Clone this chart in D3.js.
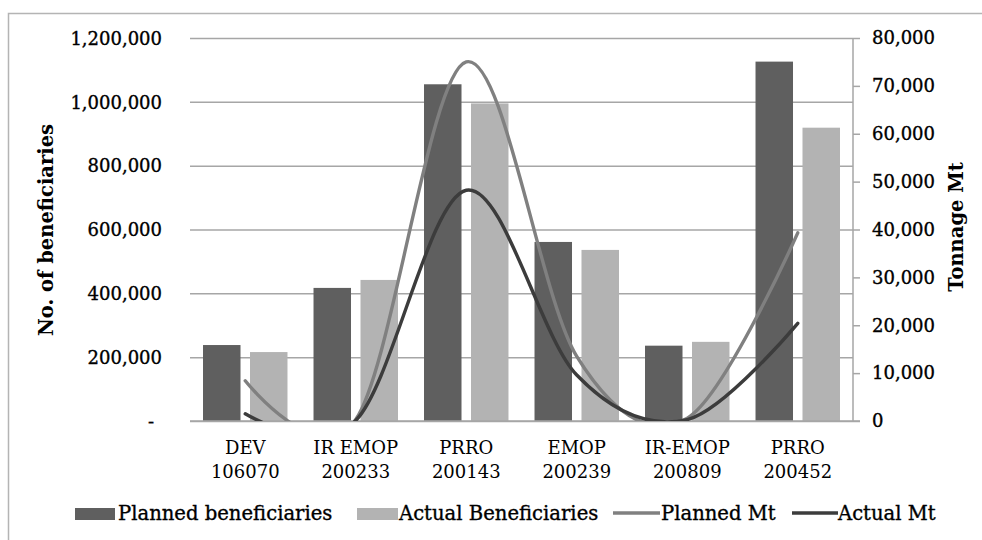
<!DOCTYPE html>
<html>
<head>
<meta charset="utf-8">
<script src="https://cdn.jsdelivr.net/npm/d3@7"></script>
<style>
  html, body { margin: 0; padding: 0; background: #fff; }
  svg { display: block; }
  text { font-family: "DejaVu Serif", "Liberation Serif", serif; fill: #000; }
  .heavy { stroke: #000; stroke-width: 0.35px; }
</style>
</head>
<body>
<svg id="chart" width="982" height="540"></svg>
<script>
// Programme names (two lines each) and their figures
const categoryLine1 = ["DEV", "IR EMOP", "PRRO", "EMOP", "IR-EMOP", "PRRO"];
const categoryLine2 = ["106070", "200233", "200143", "200239", "200809", "200452"];
const plannedBeneficiaries = [238000, 417000, 1055000, 561000, 236000, 1126000];
const actualBeneficiaries  = [216000, 442000, 995000, 536000, 248000, 919000];
const plannedMt = [8400, 300, 75000, 13500, 600, 39300];
const actualMt  = [1500, 100, 48200, 9600, 300, 20400];
const leftTicks  = [0, 200000, 400000, 600000, 800000, 1000000, 1200000];
const rightTicks = [0, 10000, 20000, 30000, 40000, 50000, 60000, 70000, 80000];
const seriesNames = ["Planned beneficiaries", "Actual Beneficiaries", "Planned Mt", "Actual Mt"];

const svg = d3.select("#chart");
const plot = { left: 190, right: 853, top: 38, bottom: 421 };

const colPlanned = "#5f5f5f", colActual = "#b3b3b3";
const colPlannedMt = "#808080", colActualMt = "#3c3c3c";
const gridCol = "#a6a6a6";

// outer chart frame
svg.append("rect")
  .attr("x", 8.5).attr("y", 13.5).attr("width", 1000).attr("height", 600)
  .attr("fill", "none").attr("stroke", "#b4b4b4").attr("stroke-width", 1.5);

const x = d3.scaleBand().domain(d3.range(categoryLine1.length)).range([plot.left, plot.right]);
const xInner = d3.scaleBand().domain(["p", "a"]).range([0, x.bandwidth()])
  .paddingInner(0.202).paddingOuter(0.277);
const yL = d3.scaleLinear().domain([0, 1200000]).range([plot.bottom, plot.top]);
const yR = d3.scaleLinear().domain([0, 80000]).range([plot.bottom, plot.top]);

// horizontal gridlines and left axis labels
const leftAxis = d3.axisLeft(yL).tickValues(leftTicks)
  .tickSize(-(plot.right - plot.left)).tickPadding(28)
  .tickFormat(d => d === 0 ? "-" : d3.format(",")(d));
const gL = svg.append("g").attr("transform", `translate(${plot.left},0)`).call(leftAxis);
gL.select(".domain").remove();
gL.selectAll(".tick line").attr("stroke", gridCol).attr("stroke-width", 1.5);
gL.selectAll(".tick text").attr("font-size", 18).attr("dy", "0.35em").attr("class", "heavy")
  .style("font-family", "'DejaVu Serif', serif").attr("fill", "#000");
gL.selectAll(".tick text").filter(d => d === 0).attr("x", -36);

// bars
const rows = categoryLine1.map((c, i) => ({ i, p: plannedBeneficiaries[i], a: actualBeneficiaries[i] }));
const bars = svg.append("g");
bars.selectAll("rect.p").data(rows).join("rect")
  .attr("x", d => x(d.i) + xInner("p")).attr("width", xInner.bandwidth())
  .attr("y", d => yL(d.p)).attr("height", d => yL(0) - yL(d.p))
  .attr("fill", colPlanned);
bars.selectAll("rect.a").data(rows).join("rect")
  .attr("x", d => x(d.i) + xInner("a")).attr("width", xInner.bandwidth())
  .attr("y", d => yL(d.a)).attr("height", d => yL(0) - yL(d.a))
  .attr("fill", colActual);

// category axis baseline
svg.append("line").attr("x1", plot.left).attr("x2", plot.right + 7)
  .attr("y1", plot.bottom).attr("y2", plot.bottom)
  .attr("stroke", gridCol).attr("stroke-width", 1.5);

// category labels
const cat = svg.append("g");
categoryLine1.forEach((c, i) => {
  const cx = x(i) + x.bandwidth() / 2;
  const t = cat.append("text").attr("x", cx).attr("text-anchor", "middle").attr("font-size", 18);
  t.append("tspan").attr("x", cx).attr("y", 454).text(c);
  t.append("tspan").attr("x", cx).attr("y", 478).text(categoryLine2[i]);
});

// right axis
const rightAxis = d3.axisRight(yR).tickValues(rightTicks).tickSize(7).tickPadding(12)
  .tickFormat(d3.format(","));
const gR = svg.append("g").attr("transform", `translate(${plot.right},0)`).call(rightAxis);
gR.select(".domain").attr("stroke", gridCol).attr("stroke-width", 1.5)
  .attr("d", `M0,${plot.top}V${plot.bottom}`);
gR.selectAll(".tick line").attr("stroke", gridCol).attr("stroke-width", 1.5);
gR.selectAll(".tick text").attr("font-size", 18).attr("class", "heavy")
  .style("font-family", "'DejaVu Serif', serif").attr("fill", "#000");

// smoothed tonnage lines, clipped to the plot area
svg.append("clipPath").attr("id", "plotclip").append("rect")
  .attr("x", plot.left).attr("y", plot.top - 10)
  .attr("width", plot.right - plot.left).attr("height", plot.bottom - plot.top + 10);
const line = d3.line()
  .x((d, i) => x(i) + x.bandwidth() / 2)
  .y(d => yR(d))
  .curve(d3.curveCardinal.tension(0));
const lines = svg.append("g").attr("clip-path", "url(#plotclip)");
lines.append("path").datum(plannedMt).attr("d", line)
  .attr("fill", "none").attr("stroke", colPlannedMt).attr("stroke-width", 3.4)
  .attr("stroke-linecap", "round");
lines.append("path").datum(actualMt).attr("d", line)
  .attr("fill", "none").attr("stroke", colActualMt).attr("stroke-width", 3.4)
  .attr("stroke-linecap", "round");

// axis titles
svg.append("text").attr("transform", "translate(53,230) rotate(-90)")
  .attr("text-anchor", "middle").attr("font-size", 19.5).attr("font-weight", "bold")
  .text("No. of beneficiaries");
svg.append("text").attr("transform", "translate(963,227) rotate(-90)")
  .attr("text-anchor", "middle").attr("font-size", 19.5).attr("font-weight", "bold")
  .text("Tonnage Mt");

// legend
const legend = svg.append("g");
const legendItems = [
  { name: seriesNames[0], type: "bar", color: colPlanned, x0: 75, x1: 115, tx: 118 },
  { name: seriesNames[1], type: "bar", color: colActual, x0: 357, x1: 398, tx: 399 },
  { name: seriesNames[2], type: "line", color: colPlannedMt, x0: 613, x1: 660, tx: 661 },
  { name: seriesNames[3], type: "line", color: colActualMt, x0: 792, x1: 838, tx: 838 }
];
legendItems.forEach(it => {
  if (it.type === "bar") {
    legend.append("rect").attr("x", it.x0).attr("y", 508).attr("width", it.x1 - it.x0)
      .attr("height", 12).attr("fill", it.color);
  } else {
    legend.append("line").attr("x1", it.x0).attr("x2", it.x1).attr("y1", 513).attr("y2", 513)
      .attr("stroke", it.color).attr("stroke-width", 3.4);
  }
  legend.append("text").attr("x", it.tx).attr("y", 520).attr("font-size", 19.6)
    .attr("class", "heavy").text(it.name);
});
</script>
</body>
</html>
